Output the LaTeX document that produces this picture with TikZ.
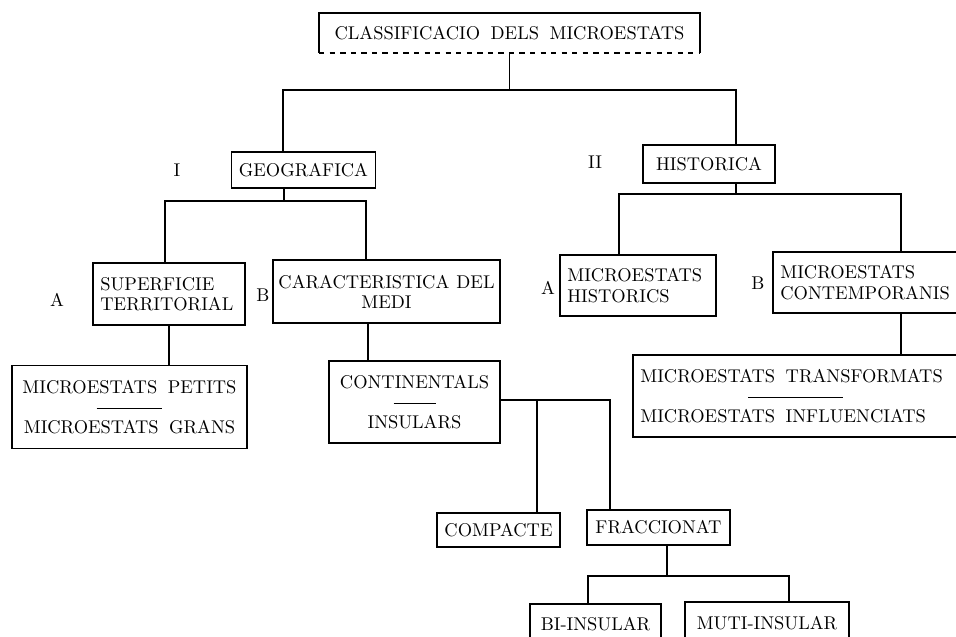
\documentclass[tikz,border=0pt]{standalone}
\usepackage{tikz}
\usetikzlibrary{positioning,calc}
\newcommand{\espais}{\spaceskip 6pt plus 1pt\relax}
\tikzset{
  caixa/.style args={#1,#2}{
  draw=black,
  line width=1pt,
  minimum width=#1 cm,
  minimum height=#2 cm,
  inner xsep=0.15cm,
  align=center
  },
  caixaesq/.style args={#1,#2}{
  caixa={#1,#2},
  anchor=west,
  align=left
  }
}

\begin{document}
\begin{tikzpicture}[x=0.02cm,y=-0.02cm,line width=1pt,
  every node/.style={font=\fontsize{10.5}{11.5}\selectfont\espais}]
  \useasboundingbox (0,0) rectangle (956,636);

  \node [caixa={7.58,0.76},draw=none] (cls) at (509.5,33) {CLASSIFICACIO DELS MICROESTATS};
  \draw (cls.south west) -- (cls.north west) -- (cls.north east) -- (cls.south east);
  \draw [dashed] (cls.south west) -- (cls.south east);

  \node [caixa={2.86,0.72}] (geo) at (303.5,170) {GEOGRAFICA};
  \node [caixa={2.64,0.76}] (hist) at (709,164) {HISTORICA};
  \node (rI) at (177,170) {I};
  \node (rII) at (595,162) {II};

  \node [caixaesq={3.04,1.24},text width=2.74cm] (sup) at (92,294) {SUPERFICIE\\TERRITORIAL};
  \node [caixa={4.54,1.26},inner xsep=0.04cm] (car) at (386.5,291.5) {\spaceskip 4pt\relax CARACTERISTICA DEL\\MEDI};
  \node [caixaesq={3.12,1.22},text width=2.82cm] (mhist) at (559,285.5) {MICROESTATS\\HISTORICS};
  \node [caixaesq={3.9,1.22},text width=3.6cm] (mcont) at (772,282.5) {MICROESTATS\\CONTEMPORANIS};
  \node (lA1) at (57,300) {A};
  \node (lB1) at (263,295) {B};
  \node (lA2) at (548,288) {A};
  \node (lB2) at (758,283) {B};

  \node [caixa={4.7,1.66}] (pet) at (129.5,407) {MICROESTATS PETITS\\\rule[0.5ex]{1.32cm}{0.8pt}\\MICROESTATS GRANS};
  \node [caixa={3.42,1.64}] (cont) at (414.5,402) {CONTINENTALS\\\rule[0.5ex]{0.84cm}{0.8pt}\\INSULARS};
  \node [caixaesq={6.9,1.64},text width=6.6cm] (trans) at (632,396) {\espais MICROESTATS TRANSFORMATS\\\hspace*{2.16cm}\rule[0.5ex]{1.9cm}{0.8pt}\\MICROESTATS INFLUENCIATS};

  \node [caixa={2.34,0.68}] (comp) at (498.5,530) {COMPACTE};
  \node [caixa={2.86,0.7}] (frac) at (658.5,527.5) {FRACCIONAT};
  \node [caixa={2.62,0.8}] (bi) at (595.5,624) {BI-INSULAR};
  \node [caixa={3.28,0.84}] (muti) at (767,623) {MUTI-INSULAR};

  \coordinate (jg) at (283,90);
  \coordinate (jh) at (736,90);
  \coordinate (gt) at (284,201);
  \coordinate (ja) at (165,201);
  \coordinate (jb) at (366,201);
  \coordinate (ht) at (736,194);
  \coordinate (jc) at (619,194);
  \coordinate (jd) at (901,194);
  \coordinate (ct) at (368,340);
  \coordinate (je) at (537,400);
  \coordinate (jf) at (610,400);
  \coordinate (ft) at (667,576);
  \coordinate (jk) at (588,576);
  \coordinate (jl) at (789,576);

  \draw (cls.south) |- (jg) -- (jg |- geo.north);
  \draw (cls.south) |- (jh) -- (jh |- hist.north);
  \draw (gt |- geo.south) -- (gt);
  \draw (ja |- sup.north) |- (jb) -- (jb |- car.north);
  \draw (ht |- hist.south) -- (ht);
  \draw (jc |- mhist.north) |- (jd) -- (jd |- mcont.north);
  \draw (sup.south) -- (sup.south |- pet.north);
  \draw (ct |- car.south) -- (ct |- cont.north);
  \draw (jd |- mcont.south) -- (jd |- trans.north);
  \draw (cont.east |- jf) -- (jf) -- (jf |- frac.north);
  \draw (je) -- (je |- comp.north);
  \draw (ft |- frac.south) -- (ft);
  \draw (jk |- bi.north) |- (jl) -- (jl |- muti.north);
\end{tikzpicture}
\end{document}
